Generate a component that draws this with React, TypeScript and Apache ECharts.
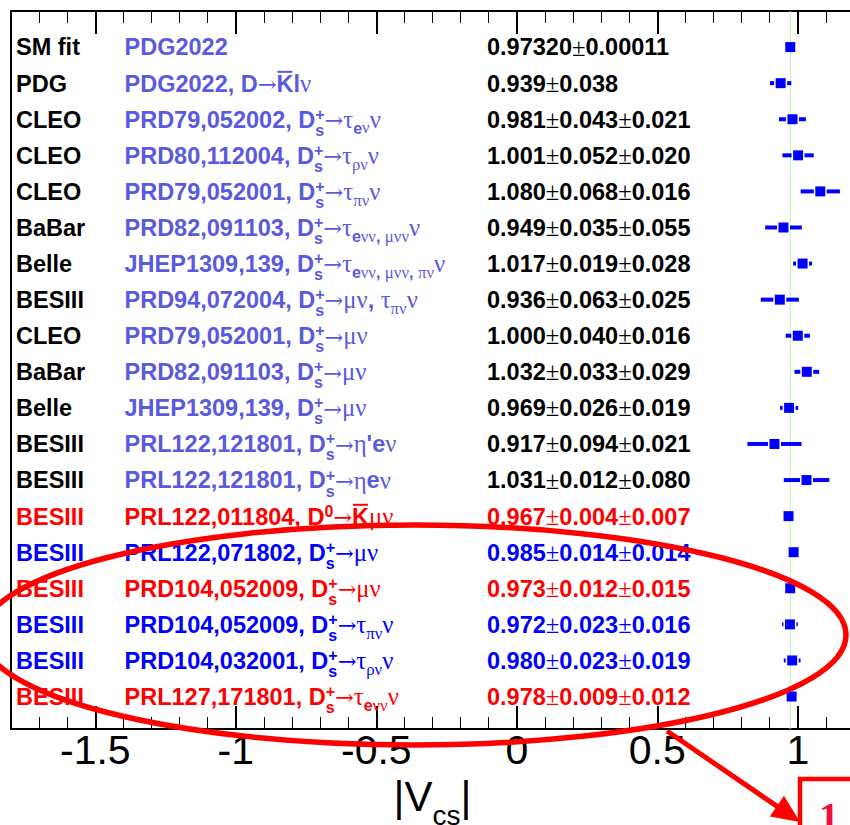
import React, { useEffect, useRef } from 'react';
import * as echarts from 'echarts';

// ---------------- data ----------------
const experiments = [
  'SM fit', 'PDG', 'CLEO', 'CLEO', 'CLEO', 'BaBar', 'Belle', 'BESIII', 'CLEO', 'BaBar',
  'Belle', 'BESIII', 'BESIII', 'BESIII', 'BESIII', 'BESIII', 'BESIII', 'BESIII', 'BESIII',
];
const references = [
  'PDG2022',
  'PDG2022, D→#bar{K}lν',
  'PRD79,052002, D^{+}_{s}→τ_{eν}ν',
  'PRD80,112004, D^{+}_{s}→τ_{ρν}ν',
  'PRD79,052001, D^{+}_{s}→τ_{πν}ν',
  'PRD82,091103, D^{+}_{s}→τ_{eνν, μνν}ν',
  'JHEP1309,139, D^{+}_{s}→τ_{eνν, μνν, πν}ν',
  'PRD94,072004, D^{+}_{s}→μν, τ_{πν}ν',
  'PRD79,052001, D^{+}_{s}→μν',
  'PRD82,091103, D^{+}_{s}→μν',
  'JHEP1309,139, D^{+}_{s}→μν',
  "PRL122,121801, D^{+}_{s}→η'eν",
  'PRL122,121801, D^{+}_{s}→ηeν',
  'PRL122,011804, D^{0}→#bar{K}μν',
  'PRL122,071802, D^{+}_{s}→μν',
  'PRD104,052009, D^{+}_{s}→μν',
  'PRD104,052009, D^{+}_{s}→τ_{πν}ν',
  'PRD104,032001, D^{+}_{s}→τ_{ρν}ν',
  'PRL127,171801, D^{+}_{s}→τ_{eνν}ν',
];
const centrals = [0.9732, 0.939, 0.981, 1.001, 1.080, 0.949, 1.017, 0.936, 1.000, 1.032, 0.969, 0.917, 1.031, 0.967, 0.985, 0.973, 0.972, 0.980, 0.978];
const statErrors = [0.00011, 0.038, 0.043, 0.052, 0.068, 0.035, 0.019, 0.063, 0.040, 0.033, 0.026, 0.094, 0.012, 0.004, 0.014, 0.012, 0.023, 0.023, 0.009];
const systErrors = [0, 0, 0.021, 0.020, 0.016, 0.055, 0.028, 0.025, 0.016, 0.029, 0.019, 0.021, 0.080, 0.007, 0.014, 0.015, 0.016, 0.019, 0.012];
const decimals = [5, 3, 3, 3, 3, 3, 3, 3, 3, 3, 3, 3, 3, 3, 3, 3, 3, 3, 3];
const rowGroups = [
  'old', 'old', 'old', 'old', 'old', 'old', 'old', 'old', 'old', 'old', 'old', 'old', 'old',
  'red', 'blue', 'red', 'blue', 'blue', 'red',
];
const smFitValue = centrals[0];
const xRange = [-1.8, 1.2];
const yRange = [0.1, 20];
const axisTitle = ['|V', 'cs', '|'];
const annotationDigit = '1';

// ---------------- style ----------------
const SANS = "'Liberation Sans', Arial, Helvetica, sans-serif";
const SERIF = "'Liberation Serif', 'DejaVu Serif', 'Times New Roman', serif";
const ARROW_FONT = "'DejaVu Serif', 'Liberation Serif', serif";
const SYMBOLS = '→τνμηπρ±';
const GROUP_COLORS: Record<string, { label: string; ref: string; value: string }> = {
  old: { label: '#000000', ref: '#5a5ae0', value: '#000000' },
  red: { label: '#ff0000', ref: '#ff0000', value: '#ff0000' },
  blue: { label: '#0000ff', ref: '#0000ff', value: '#0000ff' },
};
const MAIN = 23.5;
const SMALL = 16;
const CENTRAL_K = 0.345;

let measureCtx: CanvasRenderingContext2D | null = null;
function textWidth(t: string, size: number, weight: string, family: string) {
  if (!measureCtx) measureCtx = document.createElement('canvas').getContext('2d');
  measureCtx!.font = `${weight} ${size}px ${family}`;
  return measureCtx!.measureText(t).width;
}

type Tok =
  | { kind: 'text'; text: string; level: 'main' | 'sub' }
  | { kind: 'stack'; sup: string; sub: string }
  | { kind: 'bar'; text: string };

function parseMarkup(s: string): Tok[] {
  const out: Tok[] = [];
  let buf = '';
  const flush = () => {
    if (buf) {
      out.push({ kind: 'text', text: buf, level: 'main' });
      buf = '';
    }
  };
  const readGroup = (start: number): [string, number] => {
    const end = s.indexOf('}', start);
    return [s.slice(start, end), end + 1];
  };
  let i = 0;
  while (i < s.length) {
    if (s.startsWith('^{', i)) {
      flush();
      const [sup, j] = readGroup(i + 2);
      let sub = '';
      i = j;
      if (s.startsWith('_{', i)) {
        const [sb, k] = readGroup(i + 2);
        sub = sb;
        i = k;
      }
      out.push({ kind: 'stack', sup, sub });
    } else if (s.startsWith('_{', i)) {
      flush();
      const [sb, k] = readGroup(i + 2);
      out.push({ kind: 'text', text: sb, level: 'sub' });
      i = k;
    } else if (s.startsWith('#bar{', i)) {
      flush();
      const [b, k] = readGroup(i + 5);
      out.push({ kind: 'bar', text: b });
      i = k;
    } else {
      buf += s[i];
      i++;
    }
  }
  flush();
  return out;
}

function charKind(ch: string) {
  if (ch === '→') return 'arrow';
  return SYMBOLS.includes(ch) ? 'sym' : 'txt';
}

function splitRuns(t: string) {
  const runs: { t: string; kind: string }[] = [];
  for (const ch of t) {
    const kind = charKind(ch);
    const last = runs[runs.length - 1];
    if (last && last.kind === kind) last.t += ch;
    else runs.push({ t: ch, kind });
  }
  return runs;
}

function drawString(els: any[], text: string, x0: number, baseline: number, size: number, weight: string, color: string) {
  let x = x0;
  for (const r of splitRuns(text)) {
    let family = SANS;
    let w = weight;
    let fs = size;
    if (r.kind === 'sym') {
      family = SERIF;
      w = 'normal';
      fs = size * 1.05;
    } else if (r.kind === 'arrow') {
      family = ARROW_FONT;
      w = 'normal';
      fs = size * 0.95;
    }
    els.push({
      type: 'text',
      x,
      y: baseline - CENTRAL_K * fs,
      silent: true,
      z: 10,
      style: { text: r.t, fontSize: fs, fontFamily: family, fontWeight: w, fill: color, align: 'left', verticalAlign: 'middle' },
    });
    x += textWidth(r.t, fs, w, family);
  }
  return x - x0;
}

function drawMarkup(els: any[], markup: string, x0: number, baseline: number, color: string) {
  let x = x0;
  for (const tok of parseMarkup(markup)) {
    if (tok.kind === 'text') {
      if (tok.level === 'main') x += drawString(els, tok.text, x, baseline, MAIN, 'bold', color);
      else x += drawString(els, tok.text, x, baseline + 6, SMALL, 'bold', color);
    } else if (tok.kind === 'stack') {
      const w1 = drawString(els, tok.sup, x, baseline - 8, SMALL, 'bold', color);
      const w2 = tok.sub ? drawString(els, tok.sub, x, baseline + 8, SMALL, 'bold', color) : 0;
      x += Math.max(w1, w2);
    } else {
      const w = drawString(els, tok.text, x, baseline, MAIN, 'bold', color);
      const yb = baseline - 0.716 * MAIN - 3;
      els.push({ type: 'line', silent: true, z: 10, shape: { x1: x + 1, y1: yb, x2: x + w - 1, y2: yb }, style: { stroke: color, lineWidth: 2 } });
      x += w;
    }
  }
  return x - x0;
}

const N = experiments.length;
const totals = statErrors.map((s, i) => Math.sqrt(s * s + systErrors[i] * systErrors[i]));
const valueLabels = centrals.map((c, i) => {
  const parts = [c, statErrors[i], systErrors[i]].filter((v, k) => k === 0 || v > 0);
  return parts.map((v) => v.toFixed(decimals[i])).join('±');
});

function makeXAxis(position: 'top' | 'bottom', major: boolean, labels: boolean) {
  const ax: any = {
    type: 'value',
    position,
    min: xRange[0],
    max: xRange[1],
    splitLine: { show: false },
    axisLine: { show: major, onZero: false, lineStyle: { color: '#000', width: 2 } },
    axisTick: { show: true, inside: true, length: major ? 23 : 12, lineStyle: { color: '#000', width: major ? 2 : 1 } },
    axisLabel: labels
      ? { show: true, fontSize: 41, fontFamily: SANS, color: '#000', margin: 0, showMinLabel: false, showMaxLabel: false }
      : { show: false },
  };
  if (major) ax.splitNumber = 6;
  else ax.interval = 0.1;
  return ax;
}

const option: any = {
  animation: false,
  backgroundColor: '#ffffff',
  grid: { left: 11, right: 6, top: 11, bottom: 96, containLabel: false, outerBoundsMode: 'none' },
  xAxis: [makeXAxis('bottom', true, true), makeXAxis('bottom', false, false), makeXAxis('top', true, false), makeXAxis('top', false, false)],
  yAxis: {
    type: 'value',
    min: yRange[0],
    max: yRange[1],
    axisLine: { show: true, onZero: false, lineStyle: { color: '#000', width: 2 } },
    axisTick: { show: false },
    axisLabel: { show: false },
    splitLine: { show: false },
  },
  series: [
    {
      type: 'line',
      xAxisIndex: 0,
      data: [[smFitValue, yRange[0]], [smFitValue, yRange[1]]],
      showSymbol: false,
      symbol: 'none',
      silent: true,
      lineStyle: { color: '#bdf2ad', width: 1 },
      z: 1,
    },
    {
      type: 'custom',
      xAxisIndex: 0,
      data: centrals.map((c, i) => [c, N - i, totals[i]]),
      encode: { x: 0, y: 1 },
      clip: false,
      z: 5,
      renderItem: (params: any, api: any) => {
        const x = api.value(0);
        const y = api.value(1);
        const e = api.value(2);
        const c = api.coord([x, y]);
        const lo = api.coord([x - e, y]);
        const hi = api.coord([x + e, y]);
        const half = 5;
        const gap = 1.5;
        const th = 4;
        const children: any[] = [];
        const fill = '#0000ff';
        if (c[0] - lo[0] > half + gap + 0.5) {
          children.push({ type: 'rect', shape: { x: lo[0], y: c[1] - th / 2, width: c[0] - half - gap - lo[0], height: th }, style: { fill } });
        }
        if (hi[0] - c[0] > half + gap + 0.5) {
          children.push({ type: 'rect', shape: { x: c[0] + half + gap, y: c[1] - th / 2, width: hi[0] - c[0] - half - gap, height: th }, style: { fill } });
        }
        children.push({ type: 'rect', shape: { x: c[0] - half, y: c[1] - half, width: half * 2, height: half * 2 }, style: { fill } });
        return { type: 'group', children };
      },
    },
  ],
};

function buildGraphics(chart: any) {
  const els: any[] = [];
  for (let i = 0; i < N; i++) {
    const cy = chart.convertToPixel({ yAxisIndex: 0 }, N - i) as number;
    const baseline = cy + 8.5;
    const col = GROUP_COLORS[rowGroups[i]];
    drawString(els, experiments[i], 16, baseline, MAIN, 'bold', col.label);
    drawMarkup(els, references[i], 124.5, baseline, col.ref);
    drawString(els, valueLabels[i], 487, baseline, MAIN, 'bold', col.value);
  }
  // axis title |V_cs|
  const cx = chart.convertToPixel({ xAxisIndex: 0 }, (xRange[0] + xRange[1]) / 2) as number;
  const w0 = textWidth(axisTitle[0], 42, 'normal', SANS);
  const w1 = textWidth(axisTitle[1], 28, 'normal', SANS);
  const w2 = textWidth(axisTitle[2], 42, 'normal', SANS);
  let tx = cx - (w0 + w1 + w2) / 2;
  const tb = 811;
  tx += drawString(els, axisTitle[0], tx, tb, 42, 'normal', '#000');
  tx += drawString(els, axisTitle[1], tx, tb + 14, 28, 'normal', '#000');
  drawString(els, axisTitle[2], tx, tb, 42, 'normal', '#000');

  // annotations
  els.push({
    type: 'ellipse',
    silent: true,
    z: 100,
    shape: { cx: 414, cy: 635, rx: 432, ry: 110 },
    style: { fill: 'none', stroke: '#ff0000', lineWidth: 5.5 },
  });
  els.push({
    type: 'rect',
    silent: true,
    z: 99,
    shape: { x: 800, y: 779, width: 120, height: 100 },
    style: { fill: '#ffffff', stroke: '#ff0000', lineWidth: 4.5 },
  });
  els.push({
    type: 'text',
    silent: true,
    z: 101,
    x: 819,
    y: 830 - CENTRAL_K * 40,
    style: { text: annotationDigit, fontSize: 40, fontFamily: SERIF, fontWeight: 'bold', fill: '#ee1040', align: 'left', verticalAlign: 'middle' },
  });
  const ax = 667, ay = 731, bx = 800, by = 822;
  const ang = Math.atan2(by - ay, bx - ax);
  const hl = 28, hw = 12.5;
  const baseX = bx - hl * Math.cos(ang);
  const baseY = by - hl * Math.sin(ang);
  els.push({
    type: 'line',
    silent: true,
    z: 100,
    shape: { x1: ax, y1: ay, x2: baseX + 2 * Math.cos(ang), y2: baseY + 2 * Math.sin(ang) },
    style: { stroke: '#ff0000', lineWidth: 5 },
  });
  els.push({
    type: 'polygon',
    silent: true,
    z: 100,
    shape: {
      points: [
        [bx, by],
        [baseX - hw * Math.sin(ang), baseY + hw * Math.cos(ang)],
        [baseX + hw * Math.sin(ang), baseY - hw * Math.cos(ang)],
      ],
    },
    style: { fill: '#ff0000' },
  });
  return els;
}

export default function App() {
  const ref = useRef<HTMLDivElement>(null);
  useEffect(() => {
    const el = ref.current!;
    document.documentElement.style.overflow = 'hidden';
    const chart = echarts.init(el, undefined, { renderer: 'svg' });
    chart.setOption(option);
    chart.setOption({ graphic: buildGraphics(chart) });
    return () => {
      chart.dispose();
    };
  }, []);
  return <div ref={ref} style={{ position: 'fixed', left: 0, top: 0, width: 860, height: 825 }} />;
}
